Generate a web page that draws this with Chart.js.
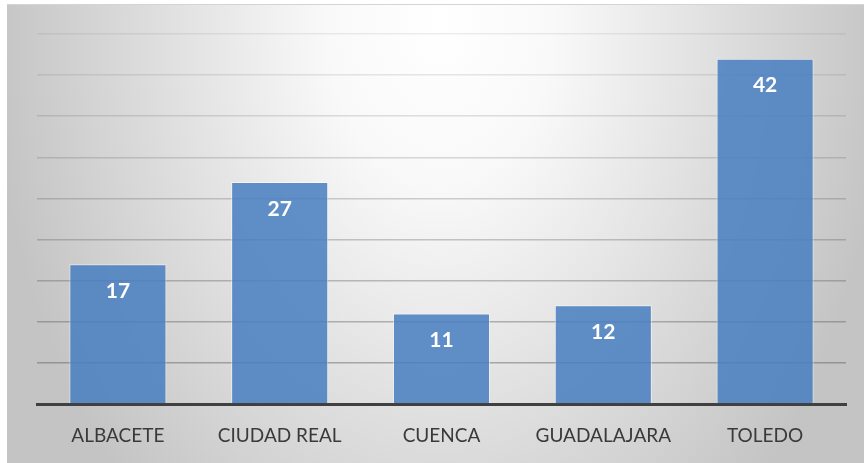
<!DOCTYPE html>
<html>
<head>
<meta charset="utf-8">
<script src="https://cdn.jsdelivr.net/npm/chart.js@4/dist/chart.umd.min.js"></script>
<style>
    html, body { margin: 0; padding: 0; background: #ffffff; overflow: hidden; }
    canvas { display: block; }
</style>
</head>
<body>
<canvas id="provChart" width="864" height="463"></canvas>
<script>
const provincias = ['ALBACETE', 'CIUDAD REAL', 'CUENCA', 'GUADALAJARA', 'TOLEDO'];
const valores = [17, 27, 11, 12, 42];
const yMax = 45;
const yStep = 5;

// Excel-like radial grey background behind the whole chart
const backgroundPlugin = {
    id: 'fondo',
    beforeDraw: function(chart) {
        const ctx = chart.ctx;
        const x0 = 7, y0 = 5, w = chart.width - x0, h = chart.height - y0;
        ctx.save();
        ctx.beginPath();
        ctx.rect(x0, y0, w, h);
        ctx.clip();
        ctx.translate(440, 20);
        ctx.scale(1, 650 / 450);
        const g = ctx.createRadialGradient(0, 0, 0, 0, 0, 450);
        g.addColorStop(0, '#ffffff');
        g.addColorStop(0.25, '#f9f9f9');
        g.addColorStop(1, '#c4c4c4');
        ctx.fillStyle = g;
        ctx.fillRect(-600, -100, 1400, 600);
        ctx.restore();
        // thin top edge of the frame
        ctx.save();
        ctx.fillStyle = '#d4d4d4';
        ctx.fillRect(x0, y0 - 1, w, 1);
        ctx.restore();
    }
};

// white value labels inside the top of each bar
const labelPlugin = {
    id: 'etiquetas',
    afterDatasetsDraw: function(chart) {
        const ctx = chart.ctx;
        const meta = chart.getDatasetMeta(0);
        ctx.save();
        ctx.fillStyle = '#ffffff';
        ctx.font = 'bold 21px Lato';
        ctx.textAlign = 'center';
        ctx.textBaseline = 'middle';
        meta.data.forEach(function(bar, i) {
            ctx.fillText(String(valores[i]), bar.x, bar.y + 27);
        });
        ctx.restore();
    }
};

new Chart(document.getElementById('provChart').getContext('2d'), {
    type: 'bar',
    data: {
        labels: provincias,
        datasets: [{
            data: valores,
            backgroundColor: 'rgba(72, 127, 192, 0.86)',
            borderColor: 'rgba(255, 255, 255, 0.55)',
            borderWidth: 1,
            barPercentage: 0.6,
            categoryPercentage: 1.0
        }]
    },
    options: {
        responsive: false,
        animation: false,
        layout: {
            padding: { left: 37, right: 18, top: 34, bottom: 17 }
        },
        plugins: {
            legend: { display: false },
            tooltip: { enabled: false }
        },
        scales: {
            y: {
                min: 0,
                max: yMax,
                ticks: { stepSize: yStep, display: false },
                border: { display: false },
                grid: {
                    drawTicks: false,
                    lineWidth: 1.5,
                    color: function(c) {
                        const v = c.tick ? c.tick.value : 0;
                        if (v === 0) return 'rgba(0,0,0,0)';
                        const a = 0.1 + (yMax - v) / yMax * 0.4;
                        return 'rgba(90, 90, 90, ' + a.toFixed(3) + ')';
                    }
                },
                afterFit: function(axis) { axis.width = 0; }
            },
            x: {
                grid: { display: false, drawTicks: false },
                border: { display: true, color: '#404040', width: 3 },
                ticks: {
                    color: '#3a3a3a',
                    font: { family: 'Lato', size: 19 },
                    padding: 20
                },
                afterFit: function(axis) { axis.height = 42; }
            }
        }
    },
    plugins: [backgroundPlugin, labelPlugin]
});
</script>
</body>
</html>
